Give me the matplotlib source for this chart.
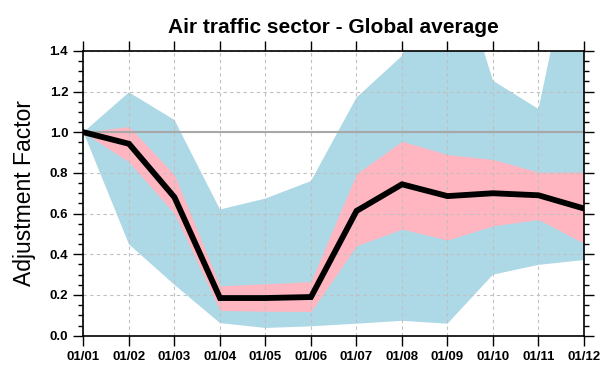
import matplotlib
matplotlib.use("Agg")
import matplotlib.pyplot as plt
from matplotlib.ticker import MultipleLocator, FormatStrFormatter
import numpy as np

plt.rcParams['font.family'] = ['Liberation Sans', 'DejaVu Sans']

months = ["01/01", "01/02", "01/03", "01/04", "01/05", "01/06",
          "01/07", "01/08", "01/09", "01/10", "01/11", "01/12"]

mean_factor = [1.0, 0.943, 0.68, 0.185, 0.185, 0.19,
               0.613, 0.744, 0.686, 0.70, 0.69, 0.625]

inner_upper = [1.0, 1.028, 0.79, 0.245, 0.255, 0.266,
               0.796, 0.955, 0.89, 0.866, 0.804, 0.804]
inner_lower = [1.0, 0.853, 0.60, 0.124, 0.12, 0.119,
               0.442, 0.524, 0.47, 0.54, 0.571, 0.454]

outer_upper = [1.0, 1.196, 1.06, 0.62, 0.674, 0.76,
               1.17, 1.375, 1.97, 1.253, 1.114, 2.17]
outer_lower = [1.0, 0.449, 0.25, 0.062, 0.038, 0.046,
               0.059, 0.073, 0.059, 0.30, 0.348, 0.372]

x = np.arange(len(months))

fig = plt.figure(figsize=(6.02, 3.65), dpi=100)
ax = fig.add_axes([0.1387, 0.0803, 0.8314, 0.7805])

ax.fill_between(x, outer_lower, outer_upper, color="#add8e6", lw=0, zorder=1)
ax.fill_between(x, inner_lower, inner_upper, color="#ffb6c1", lw=0, zorder=1.1)

ax.axhline(1.0, color="#a8a8a8", lw=1.5, zorder=2.6)
ax.plot(x, mean_factor, color="black", lw=4.2, solid_capstyle="round",
        solid_joinstyle="miter", zorder=3)

ax.set_xlim(0, len(months) - 1)
ax.set_ylim(0, 1.4)
ax.set_xticks(x)
ax.set_xticklabels(months)
ax.yaxis.set_major_locator(MultipleLocator(0.2))
ax.yaxis.set_minor_locator(MultipleLocator(0.05))
ax.yaxis.set_major_formatter(FormatStrFormatter("%.1f"))

ax.set_axisbelow(False)
ax.grid(True, which="major", color="#c0c0c0", ls=(0, (3, 3)), lw=0.8)

ax.tick_params(axis="both", which="major", direction="out", length=7,
               width=1.0, top=True, right=True, labelsize=9.5, pad=4)
ax.tick_params(axis="y", which="minor", direction="out", length=3.6,
               width=1.0, right=True)
for lab in ax.get_xticklabels() + ax.get_yticklabels():
    lab.set_fontweight("bold")

for sp in ax.spines.values():
    sp.set_linewidth(1.2)
    sp.set_zorder(4)

ax.set_ylabel("Adjustment Factor", fontsize=16.5, labelpad=10)
ax.set_title("Air traffic sector - Global average", fontsize=15,
             fontweight="bold", pad=13)

fig.savefig("out.png", dpi=100)
